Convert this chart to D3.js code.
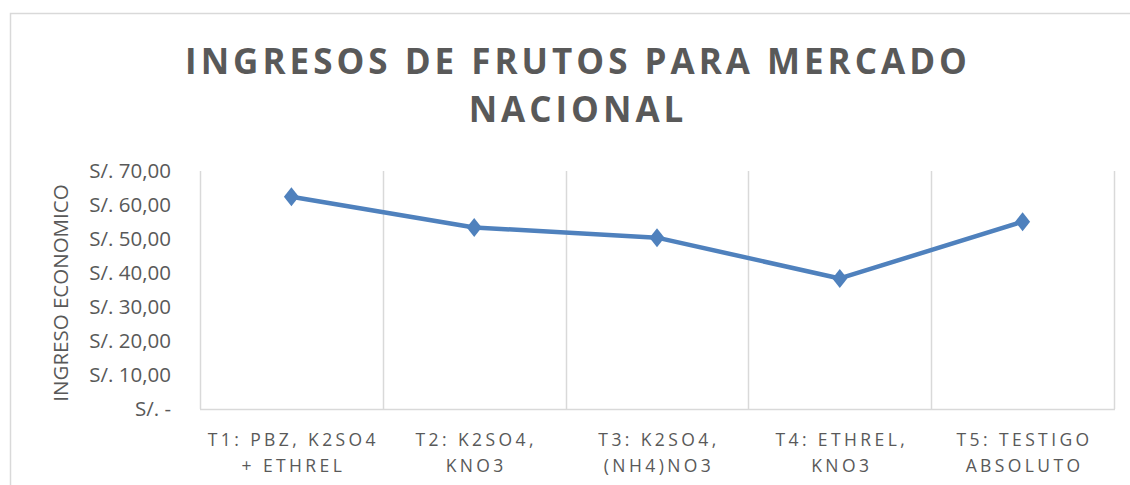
<!DOCTYPE html>
<html>
<head>
<meta charset="utf-8">
<script src="https://cdn.jsdelivr.net/npm/d3@7"></script>
<style>
    body { margin: 0; background: #fff; }
    svg { display: block; font-family: "Open Sans", "Liberation Sans", sans-serif; }
</style>
</head>
<body>
<div id="chart"></div>
<script>
const width = 1130;
const height = 485;

const categories = [
    ["T1: PBZ, K2SO4", "+ ETHREL"],
    ["T2: K2SO4,", "KNO3"],
    ["T3: K2SO4,", "(NH4)NO3"],
    ["T4: ETHREL,", "KNO3"],
    ["T5: TESTIGO", "ABSOLUTO"]
];
const values = [62.4, 53.4, 50.4, 38.4, 55.1];
const yTicks = [0, 10, 20, 30, 40, 50, 60, 70];
const titleLines = ["INGRESOS DE FRUTOS PARA MERCADO", "NACIONAL"];
const yTitle = "INGRESO ECONOMICO";

const margin = { left: 200, right: 1114, top: 171, bottom: 409 };
const gray = "#595959";
const grid = "#d9d9d9";
const blue = "#4f81bd";

const svg = d3.select("#chart")
    .append("svg")
    .attr("width", width)
    .attr("height", height);

// chart frame (runs off the page at right and bottom)
svg.append("rect")
    .attr("x", 10.5)
    .attr("y", 13.5)
    .attr("width", 1140)
    .attr("height", 500)
    .style("fill", "#fff")
    .style("stroke", grid)
    .style("stroke-width", 1.5);

const x = d3.scaleBand()
    .domain(d3.range(categories.length))
    .range([margin.left, margin.right])
    .padding(0);

const y = d3.scaleLinear()
    .domain([0, 70])
    .range([margin.bottom, margin.top]);

// vertical gridlines between categories
const bounds = d3.range(categories.length + 1).map(i => margin.left + i * x.bandwidth());
svg.selectAll(".vgrid")
    .data(bounds)
    .enter()
    .append("line")
    .attr("class", "vgrid")
    .attr("x1", d => Math.round(d) + 0.5)
    .attr("x2", d => Math.round(d) + 0.5)
    .attr("y1", y(70))
    .attr("y2", y(0))
    .style("stroke", grid)
    .style("stroke-width", 1.5);

svg.append("line")
    .attr("x1", margin.left)
    .attr("x2", margin.right + 1)
    .attr("y1", y(0) + 0.5)
    .attr("y2", y(0) + 0.5)
    .style("stroke", grid)
    .style("stroke-width", 1.5);

// y tick labels
const fmt = d => d === 0 ? "S/. -" : "S/. " + d3.format(".2f")(d).replace(".", ",");
svg.selectAll(".ytick")
    .data(yTicks)
    .enter()
    .append("text")
    .attr("class", "ytick")
    .attr("x", 171)
    .attr("y", d => y(d))
    .attr("dy", "0.35em")
    .attr("text-anchor", "end")
    .style("font-size", "20.5px")
    .style("fill", gray)
    .text(fmt);

// y axis title
svg.append("text")
    .attr("transform", "translate(61," + (y(35) + 3) + ") rotate(-90)")
    .attr("text-anchor", "middle")
    .attr("dy", "0.35em")
    .style("font-size", "20.5px")
    .style("fill", gray)
    .text(yTitle);

// x labels
const xl = svg.selectAll(".xlab")
    .data(categories)
    .enter()
    .append("text")
    .attr("class", "xlab")
    .attr("text-anchor", "middle")
    .style("font-size", "17.5px")
    .style("letter-spacing", "3.4px")
    .style("fill", gray);

xl.each(function (d, i) {
    const t = d3.select(this);
    d.forEach((s, j) => {
        t.append("tspan")
            .attr("x", x(i) + x.bandwidth() / 2 + 2)
            .attr("y", 446 + j * 26)
            .text(s);
    });
});

// title
svg.selectAll(".title")
    .data(titleLines)
    .enter()
    .append("text")
    .attr("class", "title")
    .attr("x", 578)
    .attr("y", (d, i) => 74 + i * 48)
    .attr("text-anchor", "middle")
    .style("font-size", "35px")
    .style("font-weight", "bold")
    .style("letter-spacing", "4px")
    .style("fill", gray)
    .text(d => d);

// line + markers
const line = d3.line()
    .x((d, i) => x(i) + x.bandwidth() / 2)
    .y(d => y(d));

svg.append("path")
    .datum(values)
    .attr("d", line)
    .style("fill", "none")
    .style("stroke", blue)
    .style("stroke-width", 4.5)
    .style("stroke-linejoin", "round");

svg.selectAll(".marker")
    .data(values)
    .enter()
    .append("path")
    .attr("class", "marker")
    .attr("transform", (d, i) => "translate(" + (x(i) + x.bandwidth() / 2) + "," + y(d) + ")")
    .attr("d", "M0,-9.5L7.5,0L0,9.5L-7.5,0Z")
    .style("fill", blue);
</script>
</body>
</html>
